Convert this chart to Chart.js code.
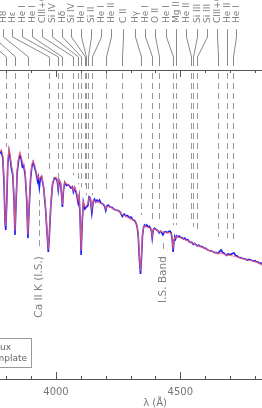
<!DOCTYPE html>
<html>
<head>
<meta charset="utf-8">
<script src="https://cdn.jsdelivr.net/npm/chart.js@4"></script>
<style>
  html, body { margin: 0; padding: 0; background: #fff; overflow: hidden; }
  canvas { display: block; }
</style>
</head>
<body>
<canvas id="spectrum" width="262" height="408"></canvas>
<script>
// wavelength grid (Angstrom) and the two spectra
var wavelengths = [3775,3780,3786,3791,3795,3798,3802,3806,3811,3815,3820,3826,3831,3835,3839,3844,3850,3855,3860,3865,3870,3876,3882,3887,3892,3898,3903,3908,3913,3919,3926,3929,3933,3937,3942,3950,3958,3965,3969,3973,3979,3986,3993,4000,4005,4009,4013,4018,4022,4026,4030,4035,4042,4050,4060,4066,4070,4075,4082,4089,4093,4097,4101,4105,4110,4116,4121,4128,4133,4138,4144,4150,4155,4160,4165,4170,4175,4180,4190,4195,4200,4205,4210,4218,4225,4232,4240,4250,4258,4267,4274,4280,4288,4295,4301,4305,4311,4316,4322,4327,4331,4336,4340,4344,4348,4352,4356,4360,4365,4370,4375,4380,4384,4387,4391,4396,4400,4405,4410,4415,4420,4425,4430,4435,4440,4446,4452,4458,4463,4467,4471,4475,4478,4481,4485,4490,4495,4500,4506,4512,4518,4524,4530,4536,4541,4546,4552,4557,4562,4568,4574,4580,4587,4595,4602,4611,4620,4630,4638,4645,4651,4657,4664,4670,4676,4681,4686,4692,4698,4704,4710,4716,4722,4728,4735,4744,4752,4760,4768,4776,4784,4792,4800,4806,4812,4818,4824,4829];
var flux = [73.0,73.6,71.5,63.0,51.0,48.2,57.5,69.5,73.8,72.0,68.5,66.0,58.0,46.6,56.5,67.0,71.0,72.5,71.2,68.6,69.0,66.0,58.0,45.6,55.5,65.0,68.8,70.2,68.8,67.0,64.0,65.2,62.0,65.0,65.5,62.0,55.0,46.0,41.1,46.0,56.0,63.0,65.0,64.8,64.0,61.2,64.2,63.4,60.0,55.7,61.0,63.6,62.6,62.9,61.8,62.2,60.5,61.8,60.0,57.0,59.0,52.0,40.1,50.0,57.2,55.0,55.5,56.0,58.9,58.5,53.7,57.5,58.2,57.3,57.9,57.4,57.9,57.0,56.5,56.0,54.5,56.0,56.3,55.6,55.6,55.0,54.7,54.5,54.0,52.6,53.4,52.8,52.9,52.2,52.4,52.0,51.4,51.3,50.5,49.0,46.0,38.0,34.0,39.5,46.5,49.0,49.8,49.4,49.8,49.2,49.4,48.8,47.8,45.6,48.3,48.8,48.6,48.2,48.0,47.3,47.8,47.4,46.6,47.5,47.7,47.4,47.6,47.9,47.3,45.5,41.1,45.0,45.9,45.3,46.3,46.0,46.3,45.9,45.8,45.3,45.6,45.0,45.1,44.4,44.2,44.3,43.6,43.9,43.5,43.1,43.3,42.9,42.9,42.4,42.3,41.7,41.5,41.3,40.9,40.9,40.6,41.2,41.8,41.0,40.7,40.3,40.0,40.5,40.2,40.4,40.6,40.8,40.0,39.8,39.4,39.2,39.0,38.9,38.5,38.7,38.5,38.2,38.3,37.9,37.9,37.4,37.6,36.9];
var templateFlux = [73.8,74.2,72.5,64.0,52.5,49.5,58.0,70.5,74.5,72.8,69.5,67.0,59.0,48.0,57.5,68.0,72.0,73.4,72.0,70.0,69.8,67.0,59.0,46.8,56.5,66.0,69.5,70.5,69.6,67.5,65.0,65.5,64.5,65.3,65.8,62.5,55.5,46.8,42.0,46.5,56.5,63.5,65.2,65.3,64.6,62.0,64.5,63.6,60.5,56.5,61.5,63.8,63.2,62.8,62.3,62.0,61.0,62.0,60.8,58.0,59.5,53.0,41.5,51.0,57.5,55.8,56.0,56.8,58.5,58.8,55.0,57.8,57.6,57.5,57.2,57.5,57.0,56.8,56.6,56.3,55.0,55.8,55.9,55.6,55.3,55.1,54.6,54.4,53.9,53.2,53.0,52.7,52.3,52.1,51.6,51.8,51.4,51.0,50.6,49.3,46.5,38.8,35.0,40.5,47.0,49.0,49.5,49.4,49.2,49.1,48.9,48.7,48.0,46.2,48.4,48.5,48.4,48.2,48.0,47.6,47.8,47.7,47.6,47.5,47.4,47.3,47.3,47.4,47.0,46.0,42.0,45.5,45.8,45.6,46.1,46.0,45.8,45.7,45.5,45.3,45.1,44.9,44.7,44.5,44.3,44.1,43.9,43.8,43.5,43.2,43.1,42.9,42.6,42.4,42.1,41.8,41.5,41.2,41.0,40.8,40.6,40.6,40.8,40.6,40.4,40.2,40.2,40.1,40.0,39.9,39.8,39.8,39.6,39.5,39.3,39.1,38.9,38.8,38.6,38.5,38.4,38.2,38.0,37.9,37.7,37.5,37.2,37.0];

// identified lines, where their labels sit, and where their dashed markers stop
var lineWavelengths = [3798,3835,3889,3970,4009,4026,4070,4089,4101,4116,4121,4128,4144,4200,4267,4340,4387,4415,4471,4481,4541,4552,4568,4650,4686,4713];
var lineNames = ['H10','H9','H8','H\u03b5','He I','He I','CIII+OII','Si IV','H\u03b4','Si IV','He I','Si II','He I','He II','C II','H\u03b3','He I','O II','He I','Mg II','He II','Si III','Si III','CIII+OII','He II','He I'];
var labelPositions = [3707,3747,3787,3823,3863,3903,3944,3984,4024,4060,4101,4141,4181,4221,4270,4318,4358,4398,4442,4483,4523,4567,4607,4648,4688,4724];
var markerEnds = [75.1,76.4,70.9,66.7,64.4,67.6,66.0,63.0,62.0,62.8,59.5,61.0,59.5,61.0,57.0,53.0,51.5,51.5,49.8,49.8,50.5,49.2,48.2,46.0,45.6,44.0];

// interstellar features
var isWavelengths = [3933, 4430];
var isNames = ['Ca II K (I.S.)', 'I.S. Band'];
var isTop = [57.9, 44.0];
var isBottom = [41.7, 41.7];

var majorTicks = [4000, 4500];
var minorTicks = [3800, 3900, 4100, 4200, 4300, 4400, 4600, 4700, 4800];
var tickLabels = ['4000', '4500'];

var legendNames = ['Flux', 'Template'];

function points(xs, ys) {
  return xs.map(function (x, i) { return { x: x, y: ys[i] }; });
}

var decorations = {
  id: 'decorations',
  beforeDatasetsDraw: function (chart) {
    var ctx = chart.ctx, xs = chart.scales.x, ys = chart.scales.y, area = chart.chartArea;
    ctx.save();
    ctx.strokeStyle = '#999';
    ctx.lineWidth = 1;
    ctx.setLineDash([6, 4]);
    lineWavelengths.forEach(function (w, i) {
      var px = Math.round(xs.getPixelForValue(w)) + 0.5;
      ctx.beginPath();
      ctx.moveTo(px, area.top + 3);
      ctx.lineTo(px, ys.getPixelForValue(markerEnds[i]));
      ctx.stroke();
    });
    isWavelengths.forEach(function (w, i) {
      var px = Math.round(xs.getPixelForValue(w)) + 0.5;
      ctx.beginPath();
      ctx.moveTo(px, ys.getPixelForValue(isTop[i]));
      ctx.lineTo(px, ys.getPixelForValue(isBottom[i]));
      ctx.stroke();
    });
    ctx.restore();
  },
  afterDatasetsDraw: function (chart) {
    var ctx = chart.ctx, xs = chart.scales.x, ys = chart.scales.y, area = chart.chartArea;
    ctx.save();

    // frame: top and bottom axes with inward ticks
    ctx.strokeStyle = '#555';
    ctx.lineWidth = 1;
    [area.top, area.bottom].forEach(function (yy) {
      ctx.beginPath();
      ctx.moveTo(0, Math.round(yy) + 0.5);
      ctx.lineTo(chart.width, Math.round(yy) + 0.5);
      ctx.stroke();
    });
    function tick(v, len) {
      var px = Math.round(xs.getPixelForValue(v)) + 0.5;
      ctx.beginPath();
      ctx.moveTo(px, area.bottom);
      ctx.lineTo(px, area.bottom - len);
      ctx.moveTo(px, area.top);
      ctx.lineTo(px, area.top + len);
      ctx.stroke();
    }
    majorTicks.forEach(function (v) { tick(v, 7); });
    minorTicks.forEach(function (v) { tick(v, 3); });

    ctx.fillStyle = '#777';
    ctx.font = '10px "DejaVu Sans"';
    ctx.textAlign = 'center';
    ctx.textBaseline = 'alphabetic';
    majorTicks.forEach(function (v, i) {
      ctx.fillText(tickLabels[i], xs.getPixelForValue(v), area.bottom + 16);
    });
    ctx.fillText('\u03bb (\u00c5)', 155, area.bottom + 27);

    // line labels and their connectors
    ctx.strokeStyle = '#8a8a8a';
    ctx.fillStyle = '#808080';
    ctx.font = '9px "DejaVu Sans"';
    ctx.textAlign = 'left';
    ctx.textBaseline = 'middle';
    lineWavelengths.forEach(function (w, i) {
      var lx = Math.round(xs.getPixelForValue(labelPositions[i])) + 0.5;
      var px = Math.round(xs.getPixelForValue(w)) + 0.5;
      ctx.beginPath();
      ctx.moveTo(lx, 29);
      ctx.lineTo(lx, 37);
      ctx.lineTo(px, 57);
      ctx.lineTo(px, 66);
      ctx.stroke();
      ctx.save();
      ctx.translate(lx, 23);
      ctx.rotate(-Math.PI / 2);
      ctx.fillText(lineNames[i], 0, 0);
      ctx.restore();
    });

    // interstellar labels
    ctx.font = '10.5px "DejaVu Sans"';
    ctx.textAlign = 'right';
    isWavelengths.forEach(function (w, i) {
      var px = Math.round(xs.getPixelForValue(w)) + 0.5;
      ctx.save();
      ctx.translate(px, ys.getPixelForValue(isBottom[i]) + 6);
      ctx.rotate(-Math.PI / 2);
      ctx.fillText(isNames[i], 0, 0);
      ctx.restore();
    });

    // legend box
    ctx.strokeStyle = '#999';
    ctx.strokeRect(-30.5, 338.5, 62, 29);
    ctx.fillStyle = '#666';
    ctx.font = '9px "DejaVu Sans"';
    ctx.textAlign = 'right';
    ctx.textBaseline = 'alphabetic';
    ctx.fillText(legendNames[0], 11, 350);
    ctx.fillText(legendNames[1], 27, 361);

    ctx.restore();
  }
};

var ctx = document.getElementById('spectrum').getContext('2d');
var chart = new Chart(ctx, {
  type: 'line',
  data: {
    datasets: [{
      label: 'Template',
      data: points(wavelengths, templateFlux),
      borderColor: 'rgba(255, 100, 100, 0.8)',
      borderWidth: 1.2,
      pointRadius: 0,
      tension: 0
    }, {
      label: 'Flux',
      data: points(wavelengths, flux),
      borderColor: 'rgba(0, 0, 255, 0.9)',
      borderWidth: 1.6,
      pointRadius: 0,
      tension: 0
    }]
  },
  options: {
    responsive: false,
    animation: false,
    devicePixelRatio: 1,
    layout: { padding: { top: 70, bottom: 29, left: 0, right: 0 } },
    scales: {
      x: { type: 'linear', min: 3774.7, max: 4828.6, display: false },
      y: { min: 0, max: 100, display: false }
    },
    plugins: {
      legend: { display: false },
      tooltip: { enabled: false }
    }
  },
  plugins: [decorations]
});
</script>
</body>
</html>
